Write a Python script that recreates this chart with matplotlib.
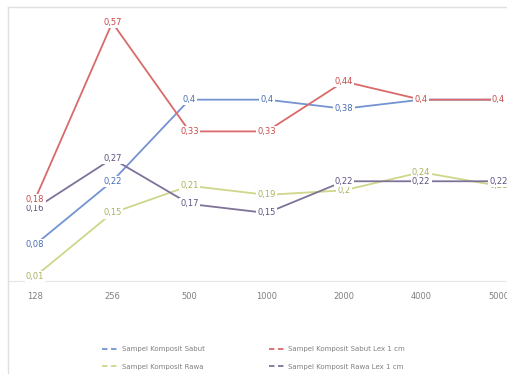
import matplotlib

matplotlib.use("Agg")

import matplotlib.pyplot as plt
from matplotlib.lines import Line2D

categories = ["128", "256", "500", "1000", "2000", "4000", "5000"]

sabut = [0.08, 0.22, 0.4, 0.4, 0.38, 0.4, 0.4]
sabut_lex = [0.18, 0.57, 0.33, 0.33, 0.44, 0.4, 0.4]
rawa = [0.01, 0.15, 0.21, 0.19, 0.2, 0.24, 0.21]
rawa_lex = [0.16, 0.27, 0.17, 0.15, 0.22, 0.22, 0.22]

names = [
    "Sampel Komposit Sabut",
    "Sampel Komposit Sabut Lex 1 cm",
    "Sampel Komposit Rawa",
    "Sampel Komposit Rawa Lex 1 cm",
]
colors = ["#7393d2", "#d86a6a", "#cfd68a", "#7f7299"]
text_colors = ["#4a6cb5", "#c94a4a", "#aab35a", "#5e5280"]

fig = plt.figure(figsize=(5.07, 3.74), dpi=100)
W, H = 507, 374

# axes placed in pixel terms; the right edge runs a little past the figure
left, right = 8, 510
top, bottom = 9, 281
ax = fig.add_axes([left / W, 1 - bottom / H, (right - left) / W, (bottom - top) / H])

x = list(range(len(categories)))
series = [sabut, sabut_lex, rawa, rawa_lex]

for vals, c in zip(series, colors):
    ax.plot(x, vals, color=c, lw=1.3, zorder=2)

# labels: red last so it sits on top where values coincide
for i in [0, 2, 3, 1]:
    for xi, v in zip(x, series[i]):
        ax.text(xi, v, ("%g" % v).replace(".", ","), color=text_colors[i], fontsize=6,
                ha="center", va="center", zorder=3,
                bbox=dict(boxstyle="square,pad=0.15", fc="white", ec="none"))

ax.set_xlim(-0.35, 6.15)
ax.set_ylim(0, 0.6)
ax.set_xticks(x)
ax.set_xticklabels(categories, fontsize=6, color="#808080")
ax.tick_params(axis="x", length=0, pad=8)
ax.set_yticks([])
for s in ["left", "right", "top"]:
    ax.spines[s].set_visible(False)
ax.spines["bottom"].set_color("#e6e6e6")
ax.patch.set_alpha(0)

# chart frame
fig.add_artist(Line2D([8 / W, 1], [1 - 7 / H, 1 - 7 / H], color="#e0e0e0", lw=1))
fig.add_artist(Line2D([8 / W, 8 / W], [0, 1 - 7 / H], color="#e0e0e0", lw=1))

# legend fills column-wise, so order entries to read row by row
order = [0, 2, 1, 3]
handles = [Line2D([0], [0], color=colors[i], lw=1.3, dashes=(3, 2)) for i in order]
labels = [names[i] for i in order]
fig.legend(handles, labels, loc="center", ncol=2, bbox_to_anchor=(0.5, 1 - 358 / H),
           frameon=False, fontsize=5, labelcolor="#808080", handlelength=2.2,
           columnspacing=9.2, handletextpad=0.6, labelspacing=1.6)

plt.savefig("out.png", dpi=100)
plt.close()
